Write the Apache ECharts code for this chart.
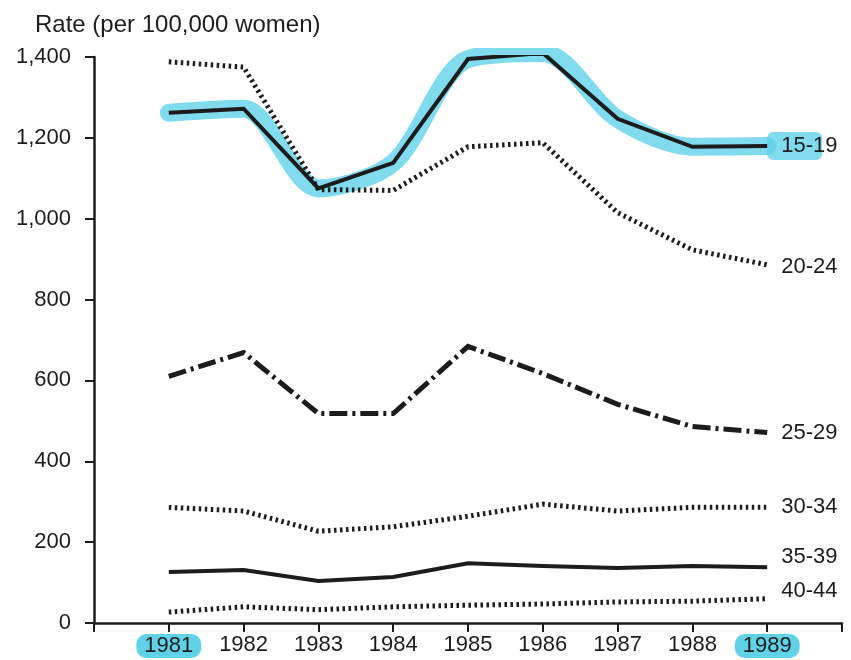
<!DOCTYPE html>
<html>
<head>
<meta charset="utf-8">
<script src="https://cdn.jsdelivr.net/npm/echarts@6/dist/echarts.min.js"></script>
<style>
  html, body { margin: 0; padding: 0; background: #fff; }
  #chart { width: 851px; height: 660px; }
</style>
</head>
<body>
<div id="chart"></div>
<script>
// years on the x axis
const years = [1981, 1982, 1983, 1984, 1985, 1986, 1987, 1988, 1989];
const yTicks = [0, 200, 400, 600, 800, 1000, 1200, 1400];

// rates per 100,000 women, by age group
const age1519 = [1262, 1272, 1075, 1138, 1395, 1410, 1247, 1178, 1180];
const age2024 = [1388, 1375, 1072, 1070, 1178, 1188, 1015, 923, 886];
const age2529 = [610, 669, 518, 518, 684, 617, 541, 486, 471];
const age3034 = [286, 277, 227, 238, 264, 294, 277, 286, 286];
const age3539 = [126, 131, 104, 114, 148, 141, 136, 141, 138];
const age4044 = [27, 40, 33, 40, 44, 47, 52, 54, 60];

const highlighted = [1981, 1989];
const ink = "#1c1c1c";
const marker = "#5fd2e8";
const font = "'Liberation Sans', Arial, Helvetica, sans-serif";

function pairs(vals) {
  return vals.map((v, i) => [years[i], v]);
}

function ageSeries(name, vals, lineStyle, labelOffset) {
  return {
    name: name,
    type: "line",
    data: pairs(vals),
    symbol: "none",
    z: 3,
    lineStyle: Object.assign({ color: ink, cap: "butt", join: "miter" }, lineStyle),
    endLabel: {
      show: true,
      formatter: name,
      color: ink,
      fontFamily: font,
      fontSize: 22,
      distance: 14,
      offset: labelOffset,
    },
    emphasis: { disabled: true },
  };
}

const chart = echarts.init(document.getElementById("chart"));

chart.setOption({
  animation: false,
  backgroundColor: "#fff",
  title: {
    text: "Rate (per 100,000 women)",
    left: 30,
    top: 8,
    textStyle: { color: ink, fontFamily: font, fontSize: 24, fontWeight: "normal" },
  },
  grid: { left: 94, right: 9, top: 57, bottom: 37 },
  xAxis: {
    type: "value",
    min: 1980,
    max: 1990,
    interval: 1,
    splitLine: { show: false },
    axisLine: { lineStyle: { color: ink, width: 2.5 } },
    axisTick: { length: 9, lineStyle: { color: ink, width: 2 } },
    axisLabel: {
      margin: 11,
      color: ink,
      fontFamily: font,
      fontSize: 22,
      formatter: (v) => {
        if (v < years[0] || v > years[years.length - 1]) return "";
        return highlighted.includes(v) ? "{hl|" + v + "}" : String(v);
      },
      rich: {
        hl: {
          color: ink,
          fontFamily: font,
          fontSize: 22,
          backgroundColor: marker,
          borderRadius: 10,
          padding: [1, 8, 1, 8],
        },
      },
    },
  },
  yAxis: {
    type: "value",
    min: yTicks[0],
    max: yTicks[yTicks.length - 1],
    interval: 200,
    splitLine: { show: false },
    axisLine: { show: true, lineStyle: { color: ink, width: 2.5 } },
    axisTick: { show: true, length: 9, lineStyle: { color: ink, width: 2 } },
    axisLabel: {
      margin: 23,
      color: ink,
      fontFamily: font,
      fontSize: 22,
      formatter: (v) => v.toLocaleString("en-US"),
    },
  },
  series: [
    // highlighter stroke under the 15-19 line
    {
      name: "marker",
      type: "line",
      data: pairs(age1519),
      symbol: "none",
      smooth: 0.3,
      z: 1,
      silent: true,
      lineStyle: { color: marker, width: 18, opacity: 0.8, cap: "round" },
      endLabel: {
        show: true,
        formatter: "         ",
        fontSize: 22,
        distance: 0,
        backgroundColor: marker,
        opacity: 0.8,
        padding: [3, 0, 3, 0],
        borderRadius: 6,
      },
    },
    ageSeries("15-19", age1519, { width: 4 }, [0, 0]),
    ageSeries("20-24", age2024, { width: 5, type: [2.5, 3.5] }, [0, 2]),
    ageSeries("25-29", age2529, { width: 5, type: [18, 5, 3, 5] }, [0, 0]),
    ageSeries("30-34", age3034, { width: 5, type: [2.5, 3.5] }, [0, 0]),
    ageSeries("35-39", age3539, { width: 4 }, [0, -10]),
    ageSeries("40-44", age4044, { width: 5, type: [2.5, 3.5] }, [0, -8]),
  ],
});
</script>
</body>
</html>
